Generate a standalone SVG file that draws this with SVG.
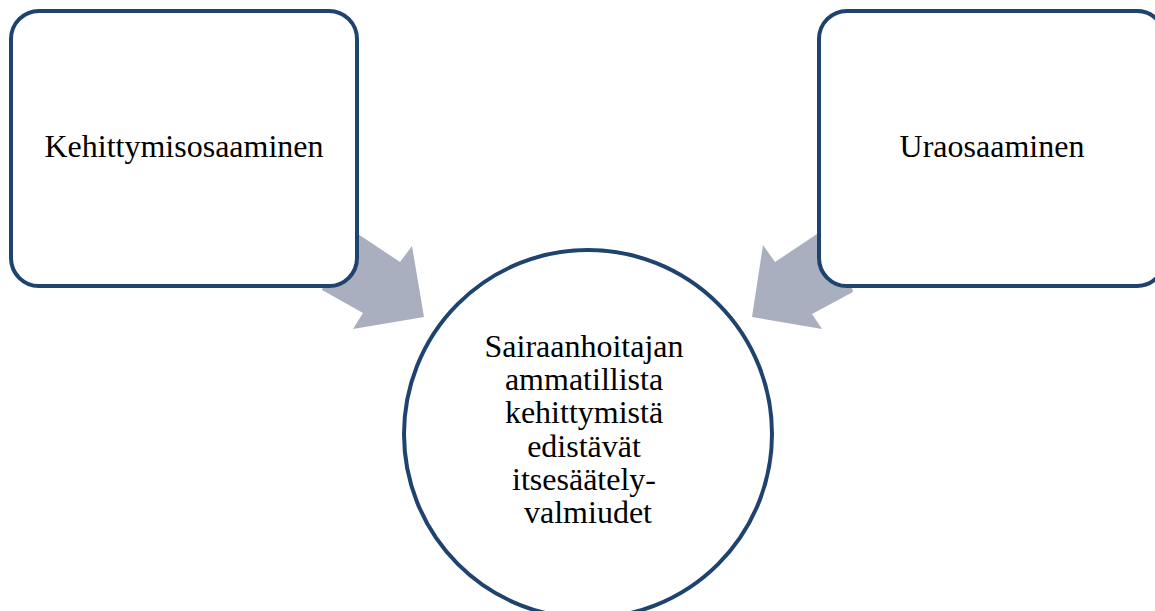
<svg xmlns="http://www.w3.org/2000/svg" width="1155" height="611" viewBox="0 0 1155 611">
  <style>
    .box { fill: #ffffff; stroke: #1f436f; stroke-width: 4; }
    .arrow { fill: #a9afbf; stroke: none; }
    .label { font-family: "Liberation Serif", "Times New Roman", serif; font-size: 32px; fill: #000000; text-anchor: middle; }
  </style>
  <rect width="1155" height="611" fill="#ffffff"/>

  <!-- block arrows pointing into the centre circle -->
  <g id="connectors">
    <polygon class="arrow" points="340,222 400,262 412,246 424,317 353,329 363,313 322,290"/>
    <polygon class="arrow" points="835,222 775,262 763,245 752,317 822,329 812,314 853,292"/>
  </g>

  <g id="node-kehittymisosaaminen">
    <rect class="box" x="11" y="11" width="346" height="275" rx="28" ry="28"/>
    <text class="label" x="184" y="157">Kehittymisosaaminen</text>
  </g>

  <g id="node-uraosaaminen">
    <rect class="box" x="819" y="11" width="346" height="275" rx="28" ry="28"/>
    <text class="label" x="992" y="157">Uraosaaminen</text>
  </g>

  <g id="node-center">
    <circle class="box" cx="588" cy="434" r="184"/>
    <text class="label">
      <tspan x="588" y="357">Sairaanhoitajan</tspan>
      <tspan x="588" y="390">ammatillista</tspan>
      <tspan x="588" y="423">kehittymistä</tspan>
      <tspan x="588" y="457">edistävät</tspan>
      <tspan x="588" y="490">itsesäätely-</tspan>
      <tspan x="588" y="523">valmiudet</tspan>
    </text>
  </g>
</svg>
